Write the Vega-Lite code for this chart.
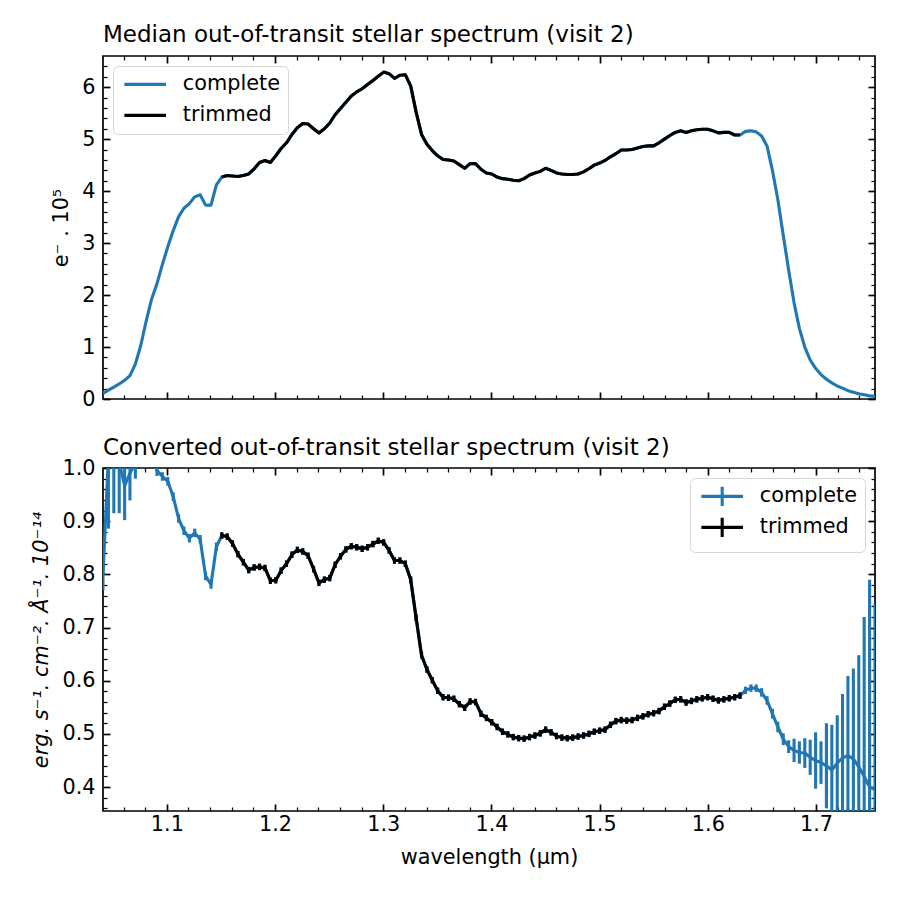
{
  "$schema": "https://vega.github.io/schema/vega-lite/v6.json",
  "padding": {"left": 30, "top": 23, "right": 23, "bottom": 10},
  "config": {
    "font": "DejaVu Sans",
    "view": {"stroke": "#000000", "strokeWidth": 1.7},
    "axis": {"domain": false, "grid": false, "labelFont": "DejaVu Sans", "labelFontSize": 20.8, "labelColor": "#000000", "tickColor": "#000000", "titleFont": "DejaVu Sans", "titleFontSize": 20.8, "titleFontWeight": "normal", "titleColor": "#000000", "labelOverlap": false, "labelFlush": false},
    "title": {"font": "DejaVu Sans", "fontSize": 23, "fontWeight": "normal", "anchor": "start", "frame": "group", "color": "#000000"},
    "legend": {"labelFont": "DejaVu Sans", "labelFontSize": 20.8, "labelColor": "#000000", "fillColor": "#ffffff", "strokeColor": "#d6d6d6", "cornerRadius": 5, "padding": 8, "offset": 10.4, "rowPadding": 9, "symbolSize": 196, "symbolStrokeWidth": 3.1, "labelOffset": 41}
  },
  "datasets": {
    "spec": [
      {"w":1.041,"c":0.11,"f":0.80,"e":0.03,"t":0},
      {"w":1.046,"c":0.17,"f":1.02,"e":0.134,"t":0},
      {"w":1.051,"c":0.23,"f":1.05,"e":0.135,"t":0},
      {"w":1.056,"c":0.29,"f":1.01,"e":0.095,"t":0},
      {"w":1.061,"c":0.36,"f":0.967,"e":0.065,"t":0},
      {"w":1.0659,"c":0.45,"f":0.99,"e":0.051,"t":0},
      {"w":1.0709,"c":0.67,"f":1.01,"e":0.03,"t":0},
      {"w":1.0759,"c":1.03,"f":1.03,"e":0.025,"t":0},
      {"w":1.0809,"c":1.50,"f":1.04,"e":0.02,"t":0},
      {"w":1.0859,"c":1.92,"f":1.02,"e":0.015,"t":0},
      {"w":1.0909,"c":2.22,"f":0.995,"e":0.01,"t":0},
      {"w":1.0959,"c":2.59,"f":0.984,"e":0.008,"t":0},
      {"w":1.1009,"c":2.93,"f":0.975,"e":0.008,"t":0},
      {"w":1.1059,"c":3.24,"f":0.946,"e":0.008,"t":0},
      {"w":1.1109,"c":3.51,"f":0.905,"e":0.008,"t":0},
      {"w":1.1158,"c":3.67,"f":0.882,"e":0.008,"t":0},
      {"w":1.1208,"c":3.76,"f":0.868,"e":0.008,"t":0},
      {"w":1.1258,"c":3.89,"f":0.878,"e":0.008,"t":0},
      {"w":1.1308,"c":3.93,"f":0.866,"e":0.008,"t":0},
      {"w":1.1358,"c":3.73,"f":0.797,"e":0.008,"t":0},
      {"w":1.1408,"c":3.73,"f":0.781,"e":0.008,"t":0},
      {"w":1.1458,"c":4.12,"f":0.852,"e":0.008,"t":0},
      {"w":1.1508,"c":4.27,"f":0.873,"e":0.006,"t":1},
      {"w":1.1558,"c":4.30,"f":0.871,"e":0.006,"t":1},
      {"w":1.1607,"c":4.29,"f":0.858,"e":0.006,"t":1},
      {"w":1.1657,"c":4.28,"f":0.838,"e":0.006,"t":1},
      {"w":1.1707,"c":4.30,"f":0.823,"e":0.006,"t":1},
      {"w":1.1757,"c":4.33,"f":0.808,"e":0.006,"t":1},
      {"w":1.1807,"c":4.43,"f":0.813,"e":0.006,"t":1},
      {"w":1.1857,"c":4.55,"f":0.814,"e":0.006,"t":1},
      {"w":1.1907,"c":4.59,"f":0.812,"e":0.006,"t":1},
      {"w":1.1957,"c":4.55,"f":0.788,"e":0.006,"t":1},
      {"w":1.2007,"c":4.68,"f":0.789,"e":0.006,"t":1},
      {"w":1.2056,"c":4.82,"f":0.807,"e":0.006,"t":1},
      {"w":1.2106,"c":4.93,"f":0.820,"e":0.006,"t":1},
      {"w":1.2156,"c":5.09,"f":0.837,"e":0.006,"t":1},
      {"w":1.2206,"c":5.22,"f":0.846,"e":0.006,"t":1},
      {"w":1.2256,"c":5.30,"f":0.843,"e":0.006,"t":1},
      {"w":1.2306,"c":5.29,"f":0.835,"e":0.006,"t":1},
      {"w":1.2356,"c":5.20,"f":0.810,"e":0.006,"t":1},
      {"w":1.2406,"c":5.12,"f":0.784,"e":0.006,"t":1},
      {"w":1.2456,"c":5.20,"f":0.790,"e":0.006,"t":1},
      {"w":1.2506,"c":5.31,"f":0.793,"e":0.006,"t":1},
      {"w":1.2555,"c":5.47,"f":0.818,"e":0.006,"t":1},
      {"w":1.2605,"c":5.59,"f":0.834,"e":0.006,"t":1},
      {"w":1.2655,"c":5.71,"f":0.847,"e":0.006,"t":1},
      {"w":1.2705,"c":5.83,"f":0.853,"e":0.006,"t":1},
      {"w":1.2755,"c":5.91,"f":0.851,"e":0.006,"t":1},
      {"w":1.2805,"c":5.97,"f":0.848,"e":0.006,"t":1},
      {"w":1.2855,"c":6.05,"f":0.851,"e":0.006,"t":1},
      {"w":1.2905,"c":6.13,"f":0.857,"e":0.006,"t":1},
      {"w":1.2954,"c":6.21,"f":0.863,"e":0.006,"t":1},
      {"w":1.3004,"c":6.29,"f":0.860,"e":0.006,"t":1},
      {"w":1.3054,"c":6.26,"f":0.845,"e":0.006,"t":1},
      {"w":1.3104,"c":6.17,"f":0.826,"e":0.006,"t":1},
      {"w":1.3154,"c":6.23,"f":0.826,"e":0.006,"t":1},
      {"w":1.3204,"c":6.24,"f":0.820,"e":0.006,"t":1},
      {"w":1.3254,"c":6.02,"f":0.790,"e":0.006,"t":1},
      {"w":1.3304,"c":5.52,"f":0.718,"e":0.006,"t":1},
      {"w":1.3354,"c":5.09,"f":0.648,"e":0.006,"t":1},
      {"w":1.3404,"c":4.90,"f":0.621,"e":0.006,"t":1},
      {"w":1.3453,"c":4.78,"f":0.601,"e":0.006,"t":1},
      {"w":1.3503,"c":4.68,"f":0.581,"e":0.006,"t":1},
      {"w":1.3553,"c":4.61,"f":0.569,"e":0.006,"t":1},
      {"w":1.3603,"c":4.60,"f":0.568,"e":0.006,"t":1},
      {"w":1.3653,"c":4.58,"f":0.566,"e":0.006,"t":1},
      {"w":1.3703,"c":4.51,"f":0.556,"e":0.006,"t":1},
      {"w":1.3753,"c":4.44,"f":0.549,"e":0.006,"t":1},
      {"w":1.3803,"c":4.53,"f":0.561,"e":0.006,"t":1},
      {"w":1.3853,"c":4.53,"f":0.560,"e":0.006,"t":1},
      {"w":1.3903,"c":4.42,"f":0.538,"e":0.006,"t":1},
      {"w":1.3953,"c":4.35,"f":0.530,"e":0.006,"t":1},
      {"w":1.4003,"c":4.33,"f":0.522,"e":0.006,"t":1},
      {"w":1.4052,"c":4.27,"f":0.513,"e":0.006,"t":1},
      {"w":1.4102,"c":4.24,"f":0.504,"e":0.006,"t":1},
      {"w":1.4152,"c":4.23,"f":0.499,"e":0.006,"t":1},
      {"w":1.4202,"c":4.21,"f":0.494,"e":0.006,"t":1},
      {"w":1.4252,"c":4.20,"f":0.492,"e":0.006,"t":1},
      {"w":1.4302,"c":4.24,"f":0.491,"e":0.006,"t":1},
      {"w":1.4352,"c":4.31,"f":0.494,"e":0.006,"t":1},
      {"w":1.4402,"c":4.35,"f":0.497,"e":0.006,"t":1},
      {"w":1.4451,"c":4.38,"f":0.501,"e":0.006,"t":1},
      {"w":1.4501,"c":4.44,"f":0.508,"e":0.006,"t":1},
      {"w":1.4551,"c":4.40,"f":0.503,"e":0.006,"t":1},
      {"w":1.4601,"c":4.35,"f":0.496,"e":0.006,"t":1},
      {"w":1.4651,"c":4.33,"f":0.493,"e":0.006,"t":1},
      {"w":1.4701,"c":4.32,"f":0.492,"e":0.006,"t":1},
      {"w":1.4751,"c":4.32,"f":0.493,"e":0.006,"t":1},
      {"w":1.4801,"c":4.33,"f":0.495,"e":0.006,"t":1},
      {"w":1.4851,"c":4.37,"f":0.497,"e":0.006,"t":1},
      {"w":1.4901,"c":4.43,"f":0.500,"e":0.006,"t":1},
      {"w":1.4950,"c":4.50,"f":0.504,"e":0.006,"t":1},
      {"w":1.5000,"c":4.54,"f":0.506,"e":0.006,"t":1},
      {"w":1.5050,"c":4.59,"f":0.508,"e":0.006,"t":1},
      {"w":1.5100,"c":4.66,"f":0.517,"e":0.006,"t":1},
      {"w":1.5150,"c":4.72,"f":0.524,"e":0.006,"t":1},
      {"w":1.5200,"c":4.79,"f":0.526,"e":0.006,"t":1},
      {"w":1.5250,"c":4.79,"f":0.525,"e":0.006,"t":1},
      {"w":1.5300,"c":4.80,"f":0.526,"e":0.006,"t":1},
      {"w":1.5350,"c":4.83,"f":0.530,"e":0.006,"t":1},
      {"w":1.5400,"c":4.86,"f":0.533,"e":0.006,"t":1},
      {"w":1.5449,"c":4.87,"f":0.537,"e":0.006,"t":1},
      {"w":1.5499,"c":4.87,"f":0.539,"e":0.006,"t":1},
      {"w":1.5549,"c":4.93,"f":0.543,"e":0.006,"t":1},
      {"w":1.5599,"c":5.00,"f":0.551,"e":0.006,"t":1},
      {"w":1.5649,"c":5.07,"f":0.557,"e":0.006,"t":1},
      {"w":1.5699,"c":5.13,"f":0.564,"e":0.006,"t":1},
      {"w":1.5749,"c":5.16,"f":0.565,"e":0.006,"t":1},
      {"w":1.5799,"c":5.13,"f":0.559,"e":0.006,"t":1},
      {"w":1.5849,"c":5.16,"f":0.562,"e":0.006,"t":1},
      {"w":1.5898,"c":5.18,"f":0.565,"e":0.006,"t":1},
      {"w":1.5948,"c":5.19,"f":0.567,"e":0.006,"t":1},
      {"w":1.5998,"c":5.19,"f":0.569,"e":0.006,"t":1},
      {"w":1.6048,"c":5.16,"f":0.566,"e":0.006,"t":1},
      {"w":1.6098,"c":5.12,"f":0.563,"e":0.006,"t":1},
      {"w":1.6148,"c":5.13,"f":0.565,"e":0.006,"t":1},
      {"w":1.6198,"c":5.13,"f":0.567,"e":0.006,"t":1},
      {"w":1.6248,"c":5.08,"f":0.569,"e":0.006,"t":1},
      {"w":1.6298,"c":5.08,"f":0.572,"e":0.006,"t":1},
      {"w":1.6348,"c":5.15,"f":0.582,"e":0.007,"t":0},
      {"w":1.6398,"c":5.16,"f":0.586,"e":0.007,"t":0},
      {"w":1.6447,"c":5.14,"f":0.586,"e":0.007,"t":0},
      {"w":1.6497,"c":5.06,"f":0.578,"e":0.008,"t":0},
      {"w":1.6547,"c":4.87,"f":0.563,"e":0.008,"t":0},
      {"w":1.6597,"c":4.40,"f":0.538,"e":0.009,"t":0},
      {"w":1.6647,"c":3.84,"f":0.513,"e":0.010,"t":0},
      {"w":1.6697,"c":3.15,"f":0.490,"e":0.011,"t":0},
      {"w":1.6747,"c":2.48,"f":0.476,"e":0.012,"t":0},
      {"w":1.6797,"c":1.85,"f":0.469,"e":0.022,"t":0},
      {"w":1.6846,"c":1.36,"f":0.465,"e":0.021,"t":0},
      {"w":1.6896,"c":1.00,"f":0.464,"e":0.028,"t":0},
      {"w":1.6946,"c":0.75,"f":0.456,"e":0.033,"t":0},
      {"w":1.6996,"c":0.59,"f":0.450,"e":0.053,"t":0},
      {"w":1.7046,"c":0.47,"f":0.446,"e":0.040,"t":0},
      {"w":1.7096,"c":0.38,"f":0.440,"e":0.080,"t":0},
      {"w":1.7146,"c":0.31,"f":0.432,"e":0.085,"t":0},
      {"w":1.7196,"c":0.25,"f":0.445,"e":0.090,"t":0},
      {"w":1.7245,"c":0.21,"f":0.455,"e":0.120,"t":0},
      {"w":1.7295,"c":0.16,"f":0.459,"e":0.150,"t":0},
      {"w":1.7345,"c":0.13,"f":0.453,"e":0.170,"t":0},
      {"w":1.7395,"c":0.10,"f":0.438,"e":0.210,"t":0},
      {"w":1.7445,"c":0.08,"f":0.420,"e":0.300,"t":0},
      {"w":1.7495,"c":0.06,"f":0.400,"e":0.390,"t":0},
      {"w":1.7545,"c":0.05,"f":0.395,"e":0.350,"t":0}
    ]
  },
  "vconcat": [
    {
      "width": 772,
      "height": 343,
      "title": {"text": "Median out-of-transit stellar spectrum (visit 2)", "offset": 8},
      "data": {"name": "spec"},
      "layer": [
        {
          "mark": {"type": "line", "strokeWidth": 3.1, "clip": true, "strokeJoin": "round"},
          "encoding": {
            "x": {"field": "w", "type": "quantitative", "scale": {"domain": [1.041, 1.7545], "nice": false, "zero": false},
                  "axis": {"orient": "bottom", "labels": false, "title": null,
                           "values": [1.06,1.08,1.1,1.12,1.14,1.16,1.18,1.2,1.22,1.24,1.26,1.28,1.3,1.32,1.34,1.36,1.38,1.4,1.42,1.44,1.46,1.48,1.5,1.52,1.54,1.56,1.58,1.6,1.62,1.64,1.66,1.68,1.7,1.72,1.74],
                           "tickSize": {"condition": {"test": "abs(datum.value*10-round(datum.value*10))<0.001", "value": -7}, "value": -4},
                           "tickWidth": {"condition": {"test": "abs(datum.value*10-round(datum.value*10))<0.001", "value": 1.7}, "value": 1.25}}},
            "y": {"field": "c", "type": "quantitative", "scale": {"domain": [0, 6.6], "nice": false},
                  "axis": {"orient": "left", "title": "e⁻ . 10⁵", "titlePadding": 10,
                           "values": [0,0.2,0.4,0.6,0.8,1,1.2,1.4,1.6,1.8,2,2.2,2.4,2.6,2.8,3,3.2,3.4,3.6,3.8,4,4.2,4.4,4.6,4.8,5,5.2,5.4,5.6,5.8,6,6.2,6.4],
                           "labelExpr": "abs(datum.value-round(datum.value))<0.001 ? format(datum.value,'d') : ''",
                           "labelPadding": 15,
                           "tickSize": {"condition": {"test": "abs(datum.value-round(datum.value))<0.001", "value": -7}, "value": -4},
                           "tickWidth": {"condition": {"test": "abs(datum.value-round(datum.value))<0.001", "value": 1.7}, "value": 1.25}}},
            "color": {"datum": "complete", "type": "nominal",
                      "scale": {"domain": ["complete", "trimmed"], "range": ["#1f77b4", "#000000"]},
                      "legend": {"title": null, "orient": "top-left", "symbolType": "M-1,0H4.94"}}
          }
        },
        {
          "transform": [{"filter": "datum.t == 1"}],
          "mark": {"type": "line", "strokeWidth": 3.1, "clip": true, "strokeJoin": "round"},
          "encoding": {
            "x": {"field": "w", "type": "quantitative",
                  "axis": {"orient": "top", "labels": false, "title": null,
                           "values": [1.06,1.08,1.1,1.12,1.14,1.16,1.18,1.2,1.22,1.24,1.26,1.28,1.3,1.32,1.34,1.36,1.38,1.4,1.42,1.44,1.46,1.48,1.5,1.52,1.54,1.56,1.58,1.6,1.62,1.64,1.66,1.68,1.7,1.72,1.74],
                           "tickSize": {"condition": {"test": "abs(datum.value*10-round(datum.value*10))<0.001", "value": -7}, "value": -4},
                           "tickWidth": {"condition": {"test": "abs(datum.value*10-round(datum.value*10))<0.001", "value": 1.7}, "value": 1.25}}},
            "y": {"field": "c", "type": "quantitative",
                  "axis": {"orient": "right", "labels": false, "title": null,
                           "values": [0,0.2,0.4,0.6,0.8,1,1.2,1.4,1.6,1.8,2,2.2,2.4,2.6,2.8,3,3.2,3.4,3.6,3.8,4,4.2,4.4,4.6,4.8,5,5.2,5.4,5.6,5.8,6,6.2,6.4],
                           "tickSize": {"condition": {"test": "abs(datum.value-round(datum.value))<0.001", "value": -7}, "value": -4},
                           "tickWidth": {"condition": {"test": "abs(datum.value-round(datum.value))<0.001", "value": 1.7}, "value": 1.25}}},
            "color": {"datum": "trimmed", "type": "nominal"}
          }
        }
      ],
      "resolve": {"axis": {"x": "independent", "y": "independent"}}
    },
    {
      "width": 772,
      "height": 343,
      "title": {"text": "Converted out-of-transit stellar spectrum (visit 2)", "offset": -3},
      "data": {"name": "spec"},
      "layer": [
        {
          "mark": {"type": "line", "strokeWidth": 3.1, "clip": true, "strokeJoin": "round"},
          "encoding": {
            "x": {"field": "w", "type": "quantitative", "scale": {"domain": [1.041, 1.7545], "nice": false, "zero": false},
                  "axis": {"orient": "bottom", "title": "wavelength (μm)", "titlePadding": 11,
                           "values": [1.06,1.08,1.1,1.12,1.14,1.16,1.18,1.2,1.22,1.24,1.26,1.28,1.3,1.32,1.34,1.36,1.38,1.4,1.42,1.44,1.46,1.48,1.5,1.52,1.54,1.56,1.58,1.6,1.62,1.64,1.66,1.68,1.7,1.72,1.74],
                           "labelExpr": "abs(datum.value*10-round(datum.value*10))<0.001 ? format(datum.value,'.1f') : ''",
                           "labelPadding": 10,
                           "tickSize": {"condition": {"test": "abs(datum.value*10-round(datum.value*10))<0.001", "value": -7}, "value": -4},
                           "tickWidth": {"condition": {"test": "abs(datum.value*10-round(datum.value*10))<0.001", "value": 1.7}, "value": 1.25}}},
            "y": {"field": "f", "type": "quantitative", "scale": {"domain": [0.355, 1.0], "nice": false, "zero": false},
                  "axis": {"orient": "left", "title": "erg. s⁻¹. cm⁻². Å⁻¹. 10⁻¹⁴", "titleFontStyle": "italic", "titlePadding": 10,
                           "values": [0.36,0.38,0.4,0.42,0.44,0.46,0.48,0.5,0.52,0.54,0.56,0.58,0.6,0.62,0.64,0.66,0.68,0.7,0.72,0.74,0.76,0.78,0.8,0.82,0.84,0.86,0.88,0.9,0.92,0.94,0.96,0.98,1.0],
                           "labelExpr": "abs(datum.value*10-round(datum.value*10))<0.001 ? format(datum.value,'.1f') : ''",
                           "labelPadding": 15,
                           "tickSize": {"condition": {"test": "abs(datum.value*10-round(datum.value*10))<0.001", "value": -7}, "value": -4},
                           "tickWidth": {"condition": {"test": "abs(datum.value*10-round(datum.value*10))<0.001", "value": 1.7}, "value": 1.25}}},
            "color": {"datum": "complete", "type": "nominal",
                      "scale": {"domain": ["complete", "trimmed"], "range": ["#1f77b4", "#000000"]},
                      "legend": {"title": null, "orient": "top-right", "rowPadding": -2, "symbolType": "M-1,0H4.94M1.97,-1.38V1.38"}}
          }
        },
        {
          "mark": {"type": "errorbar", "thickness": 3.1, "clip": true, "color": "#1f77b4"},
          "encoding": {
            "x": {"field": "w", "type": "quantitative", "axis": null},
            "y": {"field": "f", "type": "quantitative", "axis": null},
            "yError": {"field": "e"}
          }
        },
        {
          "transform": [{"filter": "datum.t == 1"}],
          "mark": {"type": "line", "strokeWidth": 3.1, "clip": true, "strokeJoin": "round"},
          "encoding": {
            "x": {"field": "w", "type": "quantitative",
                  "axis": {"orient": "top", "labels": false, "title": null,
                           "values": [1.06,1.08,1.1,1.12,1.14,1.16,1.18,1.2,1.22,1.24,1.26,1.28,1.3,1.32,1.34,1.36,1.38,1.4,1.42,1.44,1.46,1.48,1.5,1.52,1.54,1.56,1.58,1.6,1.62,1.64,1.66,1.68,1.7,1.72,1.74],
                           "tickSize": {"condition": {"test": "abs(datum.value*10-round(datum.value*10))<0.001", "value": -7}, "value": -4},
                           "tickWidth": {"condition": {"test": "abs(datum.value*10-round(datum.value*10))<0.001", "value": 1.7}, "value": 1.25}}},
            "y": {"field": "f", "type": "quantitative",
                  "axis": {"orient": "right", "labels": false, "title": null,
                           "values": [0.36,0.38,0.4,0.42,0.44,0.46,0.48,0.5,0.52,0.54,0.56,0.58,0.6,0.62,0.64,0.66,0.68,0.7,0.72,0.74,0.76,0.78,0.8,0.82,0.84,0.86,0.88,0.9,0.92,0.94,0.96,0.98,1.0],
                           "tickSize": {"condition": {"test": "abs(datum.value*10-round(datum.value*10))<0.001", "value": -7}, "value": -4},
                           "tickWidth": {"condition": {"test": "abs(datum.value*10-round(datum.value*10))<0.001", "value": 1.7}, "value": 1.25}}},
            "color": {"datum": "trimmed", "type": "nominal"}
          }
        },
        {
          "transform": [{"filter": "datum.t == 1"}],
          "mark": {"type": "errorbar", "thickness": 3.1, "clip": true, "color": "#000000"},
          "encoding": {
            "x": {"field": "w", "type": "quantitative", "axis": null},
            "y": {"field": "f", "type": "quantitative", "axis": null},
            "yError": {"field": "e"}
          }
        }
      ],
      "resolve": {"axis": {"x": "independent", "y": "independent"}}
    }
  ],
  "spacing": 26,
  "resolve": {"scale": {"color": "independent"}, "legend": {"color": "independent"}}
}
